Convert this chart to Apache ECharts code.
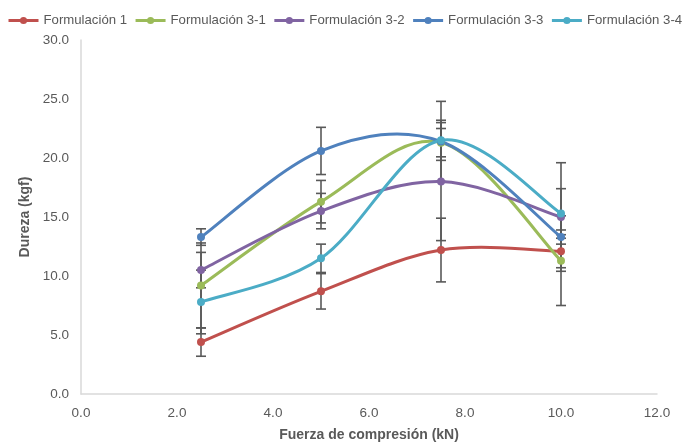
<!DOCTYPE html>
<html>
<head>
<meta charset="utf-8">
<script src="https://cdn.jsdelivr.net/npm/echarts@6/dist/echarts.min.js"></script>
<style>html,body{margin:0;padding:0;background:#fff;}#c{width:683px;height:442px;}</style>
</head>
<body>
<div id="c"></div>
<script>
const seriesNames = ['Formulación 1', 'Formulación 3-1', 'Formulación 3-2', 'Formulación 3-3', 'Formulación 3-4'];
const xValues = [2.5, 5, 7.5, 10];
const f1 = [4.4, 8.7, 12.2, 12.1];
const f31 = [9.2, 16.3, 21.3, 11.3];
const f32 = [10.5, 15.5, 18.0, 15.0];
const f33 = [13.3, 20.6, 21.4, 13.3];
const f34 = [7.8, 11.5, 21.5, 15.3];
const e1 = [1.2, 1.5, 2.7, 1.4];
const e31 = [3.6, 1.8, 1.2, 3.8];
const e32 = [1.5, 1.5, 5.0, 4.6];
const e33 = [0.7, 2.0, 3.4, 0.6];
const e34 = [2.7, 1.2, 1.7, 2.1];
const colors = ['#c0504d', '#9bbb59', '#8064a2', '#4f81bd', '#4bacc6'];

const values = [f1, f31, f32, f33, f34];
const errors = [e1, e31, e32, e33, e34];

const chart = echarts.init(document.getElementById('c'), null, {renderer: 'canvas'});
const series = [];

// error bars (behind)
values.forEach((vals, i) => {
  series.push({
    type: 'custom',
    z: 2,
    silent: true,
    data: xValues.map((x, j) => [x, vals[j] - errors[i][j], vals[j] + errors[i][j]]),
    renderItem: function (params, api) {
      const lo = api.coord([api.value(0), api.value(1)]);
      const hi = api.coord([api.value(0), api.value(2)]);
      const hw = 5;
      const st = {stroke: '#595959', lineWidth: 1.6};
      return {
        type: 'group',
        children: [
          {type: 'line', shape: {x1: lo[0], y1: lo[1], x2: hi[0], y2: hi[1]}, style: st},
          {type: 'line', shape: {x1: lo[0] - hw, y1: lo[1], x2: lo[0] + hw, y2: lo[1]}, style: st},
          {type: 'line', shape: {x1: hi[0] - hw, y1: hi[1], x2: hi[0] + hw, y2: hi[1]}, style: st}
        ]
      };
    }
  });
});

// smoothed curves (Catmull-Rom style, like a spreadsheet "smoothed line")
values.forEach((vals, i) => {
  series.push({
    type: 'custom',
    z: 3,
    silent: true,
    data: [[xValues[0], vals[0]]],
    renderItem: function (params, api) {
      const pts = xValues.map((x, j) => api.coord([x, vals[j]]));
      const n = pts.length;
      const children = [];
      for (let k = 0; k < n - 1; k++) {
        const p0 = pts[Math.max(k - 1, 0)];
        const p1 = pts[k];
        const p2 = pts[k + 1];
        const p3 = pts[Math.min(k + 2, n - 1)];
        const t = 1 / 6;
        children.push({
          type: 'bezierCurve',
          shape: {
            x1: p1[0], y1: p1[1], x2: p2[0], y2: p2[1],
            cpx1: p1[0] + (p2[0] - p0[0]) * t, cpy1: p1[1] + (p2[1] - p0[1]) * t,
            cpx2: p2[0] - (p3[0] - p1[0]) * t, cpy2: p2[1] - (p3[1] - p1[1]) * t
          },
          style: {stroke: colors[i], lineWidth: 3, fill: null, lineCap: 'round'}
        });
      }
      return {type: 'group', children: children};
    }
  });
});

// markers (and legend entries)
values.forEach((vals, i) => {
  series.push({
    name: seriesNames[i],
    type: 'line',
    data: xValues.map((x, j) => [x, vals[j]]),
    symbol: 'circle',
    symbolSize: 8,
    lineStyle: {width: 3, color: colors[i], opacity: 0},
    itemStyle: {color: colors[i]},
    z: 4
  });
});

chart.setOption({
  animation: false,
  color: colors,
  legend: {
    data: seriesNames,
    left: 7,
    top: 14,
    width: 676,
    padding: 0,
    itemWidth: 30,
    itemHeight: 9,
    itemGap: 7,
    lineStyle: {opacity: 1, width: 3},
    textStyle: {fontFamily: 'Liberation Sans', fontSize: 13.2, color: '#595959'}
  },
  grid: {left: 81, right: 26, top: 40, bottom: 48, containLabel: false, outerBoundsMode: 'none'},
  xAxis: {
    type: 'value',
    min: 0, max: 12, interval: 2,
    name: 'Fuerza de compresión (kN)',
    nameLocation: 'middle',
    nameGap: 34,
    nameTextStyle: {fontFamily: 'Liberation Sans', fontSize: 14, fontWeight: 'bold', color: '#595959'},
    axisLine: {lineStyle: {color: '#d9d9d9', width: 1.5}},
    axisTick: {show: false},
    splitLine: {show: false},
    axisLabel: {fontFamily: 'Liberation Sans', fontSize: 13.5, color: '#595959', margin: 12, formatter: v => v.toFixed(1)}
  },
  yAxis: {
    type: 'value',
    min: 0, max: 30, interval: 5,
    name: 'Dureza (kgf)',
    nameLocation: 'middle',
    nameGap: 40,
    nameTextStyle: {fontFamily: 'Liberation Sans', fontSize: 14, fontWeight: 'bold', color: '#595959'},
    axisLine: {show: true, lineStyle: {color: '#d9d9d9', width: 1.5}},
    axisTick: {show: false},
    splitLine: {show: false},
    axisLabel: {fontFamily: 'Liberation Sans', fontSize: 13.5, color: '#595959', margin: 12, formatter: v => v.toFixed(1)}
  },
  series: series
});
</script>
</body>
</html>
